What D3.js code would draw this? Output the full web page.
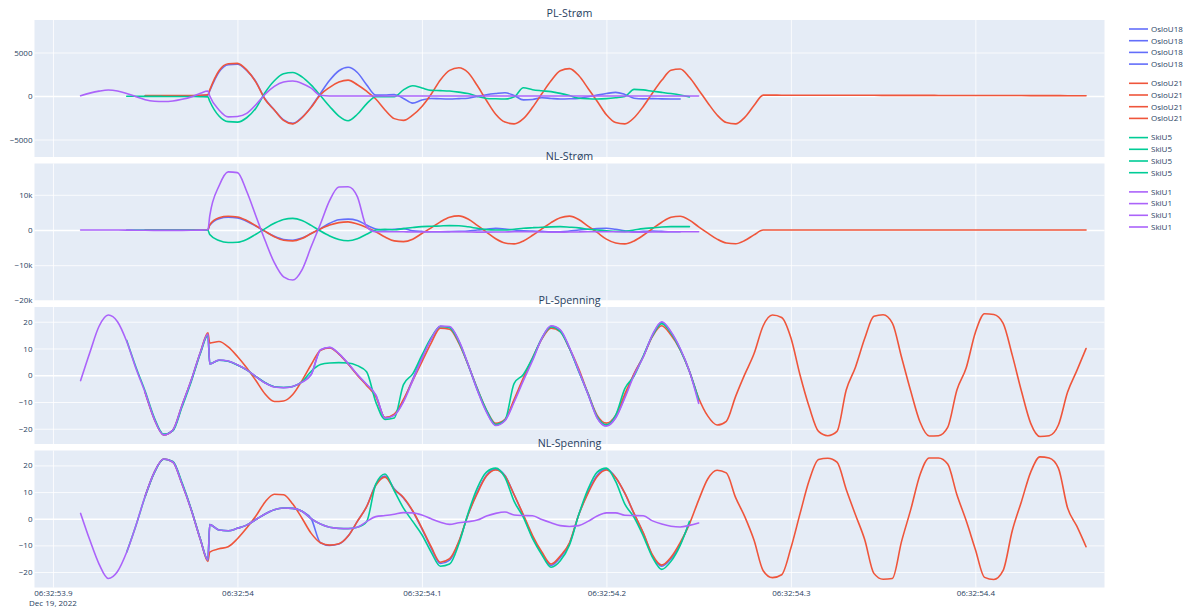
<!DOCTYPE html>
<html><head><meta charset="utf-8">
<script src="https://cdn.jsdelivr.net/npm/d3@7"></script>
<style>
html,body{margin:0;padding:0;background:#fff;}
svg{display:block;font-family:"Open Sans",verdana,arial,sans-serif;}
</style></head><body>
<svg id="chart" width="1183" height="610"></svg>
<script>
// Fault recording, Dec 19 2022, starting 06:32:53.900 UTC. Sample times in ms after that instant.
const N = null;
const timesMs = [15,20,25,30,35,40,45,50,55,60,65,70,75,80,84,
  85,90,95,100,105,110,115,120,125,130,
  135,140,145,150,155,160,165,170,175,180,
  185,190,195,200,205,210,215,220,225,230,
  235,240,245,250,255,260,265,270,275,280,
  285,290,295,300,305,310,315,320,325,330,
  335,340,345,350,355,360,365,370,375,380,
  385,390,395,400,405,410,415,420,425,430,
  435,440,445,450,455,460,465,470,475,480,
  485,490,495,500,505,510,515,520,525,530,
  535,540,545,550,555,560];

const seriesNames = ["OsloU18", "OsloU21", "SkiU5", "SkiU1"];
const panelTitles = ["PL-Strøm", "NL-Strøm", "PL-Spenning", "NL-Spenning"];

// ---- PL-Strøm (A) ----
const plStromOsloU18 = [
  N,N,N,N,N,N,N,20,20,20,20,20,30,40, 100,
  600,2750,3600,3650,2950,1650,-350,-1600,-2750,-3150,
  -2450,-1250,300,1800,2900,3300,2700,1300,100,120,
  180,-280,-820,-450,-280,-320,-340,-300,-250,-50,
  150,280,370,50,-450,-400,-200,-280,-340,-320,
  -270,-80,100,280,420,180,-250,-330,-300,-330,
  -340,-340];
const plStromOsloU21 = [
  N,N,N,N,N,N,N,50,50,60,60,60,60,80, 150,
  700,2900,3700,3750,3000,1600,-400,-1600,-2800,-3200,
  -2500,-1300,150,1000,1600,1830,1300,550,-350,-1600,
  -2600,-2800,-2200,-1200,200,1850,2950,3250,2700,1200,
  -520,-2100,-3000,-3200,-2600,-1300,250,1750,2900,3150,
  2350,900,-600,-2150,-3050,-3200,-2500,-1200,350,1800,
  2950,3100,2150,700,-800,-2180,-3050,-3200,-2450,-1100,
  100,100,95,95,90,90,90,85,85,85,
  80,80,80,75,75,75,70,70,70,65,
  65,60,60,60,55,55,50,50,50,45,
  45,40,40,35,35,30];
const plStromSkiU5 = [
  N,N,N,N,N,-20,-30,-40,-40,-50,-50,-50,-60,-80, -100,
  -600,-2300,-2950,-3000,-2500,-1400,400,1750,2550,2700,
  2200,1250,50,-1200,-2300,-2840,-2100,-900,-80,-80,
  -80,700,1180,920,650,620,575,450,280,-50,
  -280,-320,-340,-100,950,720,600,500,300,50,
  -250,-320,-340,-300,-200,-60,760,700,550,420,
  280,115,-100];
const plStromSkiU1 = [
  30,330,560,690,580,300,-80,-430,-600,-640,-580,-380,-100,330, 580,
  0,-1600,-2400,-2350,-2000,-1000,200,1100,1600,1720,
  1450,900,80,0,0,0,0,0,0,0,
  0,0,0,0,0,0,0,0,0,0,
  0,0,0,0,0,0,0,0,0,0,
  0,0,0,0,0,0,0,0,0,0,
  0,0,0,0];

// ---- NL-Strøm (A) ----
const nlStromOsloU18 = [
  N,N,N,N,N,N,N,0,0,0,0,0,0,0, 80,
  1300,3200,3600,3450,2500,1100,-400,-1800,-2700,-2900,
  -2300,-1000,400,1900,2900,3100,2700,1400,300,0,
  200,400,-250,-400,-480,-480,-450,-400,-300,0,
  200,450,300,0,-200,-300,-400,-480,-480,-300,
  0,200,400,480,200,-200,-480,-400,-300,-400,
  -480,-480];
const nlStromOsloU21 = [
  N,N,N,N,N,N,N,0,0,0,0,0,0,0, 100,
  1500,3500,3900,3700,2700,1200,-400,-1900,-2900,-3100,
  -2400,-1000,300,1400,2100,2300,1700,700,-500,-2000,
  -3100,-3300,-2600,-1000,600,2300,3600,4000,3100,1300,
  -600,-2500,-3700,-3950,-3100,-1500,300,2100,3500,3950,
  3000,1100,-700,-2600,-3700,-3950,-3100,-1500,400,2200,
  3600,3900,2800,900,-900,-2600,-3700,-3900,-3000,-1400,
  0,0,0,0,0,0,0,0,0,0,
  0,0,0,0,0,0,0,0,0,0,
  0,0,0,0,0,0,0,0,0,0,
  0,0,0,0,0,0];
const nlStromSkiU5 = [
  N,N,N,N,N,0,-20,-30,-40,-50,-50,-50,-50,-60, -80,
  -1300,-3000,-3550,-3500,-2700,-1200,400,1900,3000,3300,
  2700,1300,-300,-1700,-2700,-3050,-2500,-1200,0,190,
  50,400,700,950,1050,1150,1240,1200,900,480,
  100,0,0,200,480,650,800,900,950,800,
  600,200,0,-200,-400,-400,0,400,600,850,
  950,950,950];
const nlStromSkiU1 = [
  0,0,0,-10,-20,-40,-60,-80,-100,-110,-110,-100,-80,-40, 50,
  4000,12500,16500,16300,11000,4000,-3000,-9300,-13300,-14200,
  -11300,-4700,1700,8400,12200,12300,9500,950,-500,-500,
  -500,-520,-550,-550,-520,-500,-480,-500,-550,-600,
  -600,-580,-550,-500,-500,-520,-550,-600,-600,-580,
  -550,-520,-500,-500,-520,-550,-600,-600,-580,-550,
  -520,-500,-500,-500];

// ---- PL-Spenning (kV) ----
const plSpenningOsloU18 = [
  N,N,N,N,N,N,N,-6.5,-16.5,-22.3,-20.5,-11.2,-1.8,8.7, 15.2,
  4.2,5.6,5.2,3.8,2,-0.5,-2.8,-4.3,-4.6,-4.2,
  -2.5,0.3,9.4,10.3,8,4.3,0.2,-3.5,-7.5,-15.9,
  -14.8,-9.5,-1.5,6.5,13.5,18.2,18,12.8,4,-5.5,
  -13.5,-18.6,-16.8,-9.5,-1.5,6,13.8,18.3,16.8,10,
  1.5,-7,-15.8,-18.9,-15.8,-8,0.5,7,15,19.8,
  16,9.8,1.5,-9.5];
const plSpenningOsloU21 = [
  N,N,N,N,N,N,N,-6.5,-16.5,-22.3,-20.5,-11.2,-1.8,8.7, 15.9,
  12,12.6,10.6,7,2.8,-2,-7,-9.8,-9.6,-7.2,
  -2,4,9.3,10.2,7.9,4.2,0,-3.8,-8,-15.8,
  -14.5,-9,-2,5,12,17.6,17.2,12,4,-5,
  -13,-18,-16.5,-9,-1,6.5,13.5,17.6,16.3,10,
  2.4,-6.7,-15,-17.9,-15,-7,0.5,7,14.5,18.5,
  15,9.5,1.5,-8.5,-15.3,-18.6,-17.2,-8,0.3,8,
  18.5,22.5,21.6,14,0,-12,-21,-22.6,-21,-5.5,
  3,13.7,22,22.6,19.5,6.7,-6,-17.5,-22.7,-22.6,
  -19.5,-5.5,2.7,16,23,22.7,19.5,7.5,-6,-18,
  -22.9,-22.6,-18.6,-6.3,1.7,10];
const plSpenningSkiU5 = [
  N,N,N,N,N,13,3,-6,-16,-22,-20.8,-11.8,-2.3,8.3, 15,
  4.3,5.6,5.2,3.8,2,-0.5,-2.8,-4.3,-4.6,-4.2,
  -2.5,1.5,4,4.6,4.7,4.6,3.6,1.3,-10,-16.5,
  -16,-3.5,0.5,7.5,14,18.2,17.8,12.5,4,-5,
  -13,-18.4,-16.8,-3,0.3,6.5,13.8,18,16.3,10,
  1.5,-6.8,-15.5,-18.5,-15,-5,-0.3,7.2,14.8,19.3,
  15.8,9.6,1.5,-9];
const plSpenningSkiU1 = [
  -2,8.5,18.3,22.5,20,12.6,2.5,-6.5,-16.5,-22.3,-20.5,-11.2,-1.8,8.7, 15.4,
  4.2,5.7,5.3,3.9,2,-0.5,-2.9,-4.4,-4.7,-4.2,
  -2.6,0.2,9.5,10.4,8.1,4.4,0.3,-3.4,-7.3,-16,
  -15,-10,-2,6.2,13.5,18.4,18.2,13,4.2,-5.5,
  -13.8,-18.8,-17,-10,-2,5.5,13.8,18.5,17,10.3,
  1.8,-7,-16,-19,-16,-8.5,0,6.8,15.2,20,
  16.3,10,1.5,-10.5];

// ---- NL-Spenning (kV) ----
const nlSpenningOsloU18 = [
  N,N,N,N,N,N,N,8.5,17.5,22.4,21.3,13,3.3,-8, -15.5,
  -2.2,-4.2,-4.5,-3.6,-2.4,-0.3,1.8,3.4,4,3.9,
  2.8,0,-9,-10,-9.5,-6.5,-1,4.5,12.8,16,
  11.2,7.8,2.8,-3.8,-11,-16.8,-15.5,-8.8,1.5,10,
  16.3,18.6,16.2,9,1.2,-7,-13,-17.5,-14.5,-9.3,
  1.5,10,16.3,18.6,15.5,9.5,1.8,-5.5,-14,-17.8,
  -15,-9.5,-1.5];
const nlSpenningOsloU21 = [
  N,N,N,N,N,N,N,8.5,17.5,22.4,21.3,13,3.3,-8, -16,
  -12.5,-11.3,-10.5,-7.5,-3.5,1,6.3,9.2,9,5.5,
  0.2,-5.5,-9,-9.9,-9.4,-6.5,-1,4.5,12.5,15.6,
  11,8,3,-3.5,-10.5,-16.3,-15,-8.5,1.5,9.5,
  16,18.3,16,9,1.5,-6.3,-12.5,-17,-14,-9,
  1.5,9.5,15.8,18.3,15.5,9.6,2,-5.3,-13.6,-17.4,
  -14.5,-9,-2,7,15,18.2,17.2,8,0.8,-8,
  -19.5,-22.1,-21,-11,2,14.5,22.2,22.7,21.2,11,
  1.5,-7.8,-20.5,-22.7,-22.4,-8.5,3.5,16.5,22.8,22.8,
  20.5,9,-0.7,-11.5,-22,-22.8,-19.5,-4.5,6.5,17.5,
  23.2,22.8,19,4,-2.8,-10.5];
const nlSpenningSkiU5 = [
  N,N,N,N,N,-12.5,-2.5,8.3,17.3,22.3,21.5,13.5,3.5,-7.8, -15.5,
  -2.2,-4.2,-4.5,-3.6,-2.4,-0.3,1.8,3.4,4,3.9,
  2.8,0,-2,-3.2,-3.6,-3.7,-3.2,-1.1,13,16.8,
  10.5,4,-1,-6,-12.5,-17.8,-17,-9.5,2,11.5,
  17.5,19,15.5,6.5,0.5,-7.5,-13.5,-18.2,-15.8,-9.8,
  1.5,11,17.5,19,14,5.5,0.5,-6.5,-14.5,-19,
  -16,-10,-1];
const nlSpenningSkiU1 = [
  2,-8,-17,-22.4,-19.8,-12.5,-2.5,8.5,17.5,22.4,21.3,13,3.3,-8, -15.5,
  -2.2,-4.2,-4.5,-3.6,-2.4,-0.3,1.8,3.4,4,3.9,
  2.8,0,-2,-3.2,-3.6,-3.7,-3.2,-1.1,0.8,1.2,
  1.7,2.3,2.2,1.4,0,-1.3,-2.1,-1.5,-1.1,-0.5,
  1,2,2.5,1.4,1.2,1.1,-0.3,-1.5,-2.6,-2.9,
  -2.6,-1,1,2.2,2.2,1.3,1.2,1.1,-0.8,-2,
  -2.8,-3.1,-2.5,-1.6];

// Axis ticks
const xTickMs = [0, 100, 200, 300, 400, 500];
const xTickLabels = ["06:32:53.9", "06:32:54", "06:32:54.1", "06:32:54.2", "06:32:54.3", "06:32:54.4"];
const xDateLabel = "Dec 19, 2022";
const plStromTicks = [5000, 0, -5000];
const plStromTickLabels = ["5000", "0", "\u22125000"];
const nlStromTicks = [10000, 0, -10000, -20000];
const nlStromTickLabels = ["10k", "0", "\u221210k", "\u221220k"];
const spenningTicks = [20, 10, 0, -10, -20];
const spenningTickLabels = ["20", "10", "0", "\u221210", "\u221220"];

// ---------------- drawing ----------------
const svg = d3.select("#chart");
const left = 34.5, right = 1104.5, top0 = 20, panelH = 137, gapH = 6.5;
const colors = ["#636efa", "#EF553B", "#00cc96", "#ab63fa"];
const textColor = "#2a3f5f";
const base = Date.UTC(2022, 11, 19, 6, 32, 53, 900);
const toDate = ms => new Date(base + ms);

const x = d3.scaleUtc().domain([toDate(-10), toDate(570)]).range([left, right]);

const panels = [
  { title: panelTitles[0], series: [plStromOsloU18, plStromOsloU21, plStromSkiU5, plStromSkiU1],
    domain: [-7011, 8736], ticks: plStromTicks, labels: plStromTickLabels },
  { title: panelTitles[1], series: [nlStromOsloU18, nlStromOsloU21, nlStromSkiU5, nlStromSkiU1],
    domain: [-20030, 18890], ticks: nlStromTicks, labels: nlStromTickLabels },
  { title: panelTitles[2], series: [plSpenningOsloU18, plSpenningOsloU21, plSpenningSkiU5, plSpenningSkiU1],
    domain: [-25.7, 25.5], ticks: spenningTicks, labels: spenningTickLabels },
  { title: panelTitles[3], series: [nlSpenningOsloU18, nlSpenningOsloU21, nlSpenningSkiU5, nlSpenningSkiU1],
    domain: [-25.8, 25.6], ticks: spenningTicks, labels: spenningTickLabels }
];

const defs = svg.append("defs");

panels.forEach((p, pi) => {
  const y0 = top0 + pi * (panelH + gapH);
  const y = d3.scaleLinear().domain(p.domain).range([y0 + panelH, y0]);
  const g = svg.append("g").attr("class", "panel");

  g.append("rect").attr("x", left).attr("y", y0)
    .attr("width", right - left).attr("height", panelH).attr("fill", "#E5ECF6");

  // vertical grid
  g.append("g").attr("transform", `translate(0,${y0 + panelH})`)
    .call(d3.axisBottom(x).tickValues(xTickMs.map(toDate)).tickSize(-panelH).tickFormat(""))
    .call(s => {
      s.select(".domain").remove();
      s.selectAll("line").attr("stroke", "#fff").attr("stroke-width", 0.8);
    });

  // horizontal grid + labels
  g.append("g").attr("transform", `translate(${left},0)`)
    .call(d3.axisLeft(y).tickValues(p.ticks).tickSize(-(right - left)).tickPadding(2)
      .tickFormat((d, i) => p.labels[i]))
    .call(s => {
      s.select(".domain").remove();
      s.selectAll("line").attr("stroke", "#fff")
        .attr("stroke-width", d => d === 0 ? 1.6 : 0.8);
      s.selectAll("text").attr("fill", textColor).attr("font-size", "8px")
        .attr("font-family", '"Open Sans", verdana, arial, sans-serif');
    });

  const clipId = "clip" + pi;
  defs.append("clipPath").attr("id", clipId).append("rect")
    .attr("x", left).attr("y", y0).attr("width", right - left).attr("height", panelH);

  const line = d3.line()
    .defined(d => d.v != null)
    .x(d => x(d.t))
    .y(d => y(d.v))
    .curve(d3.curveMonotoneX);

  const traces = g.append("g").attr("clip-path", `url(#${clipId})`);
  p.series.forEach((vals, si) => {
    const pts = timesMs.map((t, i) => ({ t: toDate(t), v: i < vals.length ? vals[i] : null }));
    traces.append("path")
      .attr("d", line(pts))
      .attr("fill", "none")
      .attr("stroke", colors[si])
      .attr("stroke-width", 1.6)
      .attr("stroke-linejoin", "round")
      .attr("stroke-linecap", "round");
  });

  // subplot title
  svg.append("text")
    .attr("x", (left + right) / 2).attr("y", y0 - 3.5)
    .attr("text-anchor", "middle")
    .attr("font-size", "10.7px").attr("fill", textColor)
    .text(p.title);

  // x tick labels under the bottom panel
  if (pi === panels.length - 1) {
    const ax = svg.append("g").attr("transform", `translate(0,${y0 + panelH})`)
      .call(d3.axisBottom(x).tickValues(xTickMs.map(toDate)).tickSize(0).tickPadding(3)
        .tickFormat((d, i) => xTickLabels[i]));
    ax.select(".domain").remove();
    ax.selectAll("text").attr("fill", textColor).attr("font-size", "8px")
      .attr("font-family", '"Open Sans", verdana, arial, sans-serif');
    svg.append("text")
      .attr("x", x(toDate(xTickMs[0]))).attr("y", y0 + panelH + 18.5)
      .attr("text-anchor", "middle").attr("font-size", "8px").attr("fill", textColor)
      .text(xDateLabel);
  }
});

// legend: one entry per trace, grouped by series
const legend = svg.append("g").attr("class", "legend");
seriesNames.forEach((name, gi) => {
  panels.forEach((p, j) => {
    const ly = 29 + gi * 54.3 + j * 11.7;
    legend.append("line")
      .attr("x1", 1129).attr("x2", 1148).attr("y1", ly).attr("y2", ly)
      .attr("stroke", colors[gi]).attr("stroke-width", 1.6);
    legend.append("text")
      .attr("x", 1151).attr("y", ly).attr("dy", "0.35em")
      .attr("font-size", "8px").attr("fill", textColor)
      .text(name);
  });
});
</script>
</body></html>
